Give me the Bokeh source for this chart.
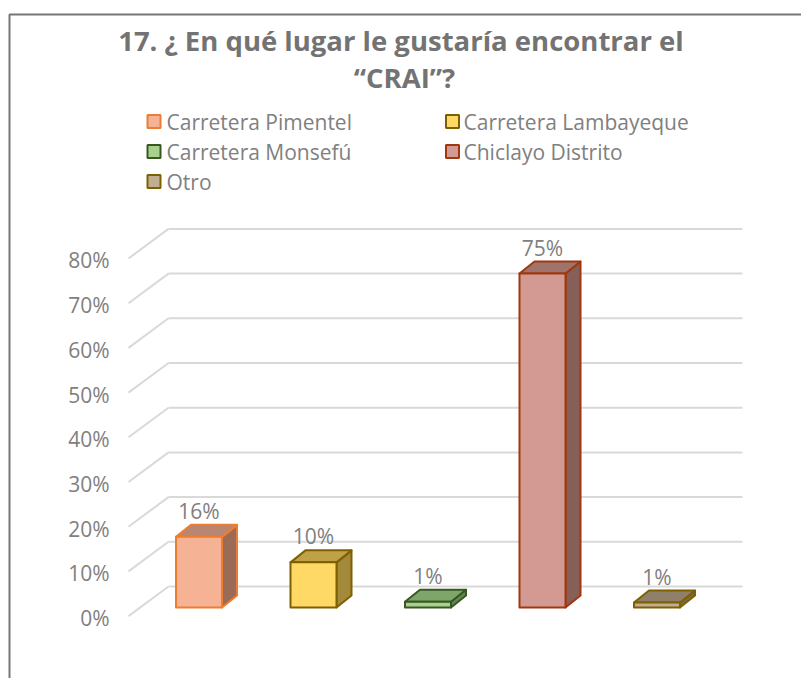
from bokeh.plotting import figure
from bokeh.models import Range1d
from bokeh.core.properties import value
from bokeh.embed import file_html
from bokeh.resources import INLINE

# ---------------- data ----------------
categories = ["Carretera Pimentel", "Carretera Lambayeque", "Carretera Monsefú",
              "Chiclayo Distrito", "Otro"]
values = [15.8, 10.1, 1.3, 74.7, 1.1]          # percent
tick_values = [0, 10, 20, 30, 40, 50, 60, 70, 80]
tick_labels = ["0%", "10%", "20%", "30%", "40%", "50%", "60%", "70%", "80%"]
title_lines = ["17. ¿ En qué lugar le gustaría encontrar  el", "“CRAI”?"]

# ---------------- styles ----------------
front_colors = ["#F6B294", "#FFD966", "#A9D18E", "#D29A93", "#BFAE8F"]
top_colors = ["#B98671", "#BFA247", "#7EA56A", "#A0746D", "#8F806A"]
side_colors = ["#9C6B56", "#A38A3B", "#5F8A4C", "#866058", "#7A6A4C"]
edge_colors = ["#ED7D31", "#7F6000", "#385723", "#A0380E", "#7F6000"]

W, H = 801, 678
SX, SY = 114.5, 4.47          # px per category step, px per percent
X0C, Y0C = 198.5, 607.0       # canvas px of category 0 / value 0 (bar front)


def fx(px):   # canvas px -> data x
    return (px - X0C) / SX


def fy(py):   # canvas px -> data y
    return (Y0C - py) / SY


p = figure(width=W, height=H, output_backend="svg", toolbar_location=None,
           x_range=Range1d(fx(0), fx(W)), y_range=Range1d(fy(H), fy(0)),
           min_border=0)
p.axis.visible = False
p.grid.visible = False
p.outline_line_color = None
p.background_fill_color = "white"
p.border_fill_color = "white"
p.title.visible = False

FONT = "Open Sans"
GRAY = "#808080"

# chart border (left and top)
p.line([fx(9), fx(9), fx(W)], [fy(H), fy(14), fy(14)], line_color="#767676", line_width=2)

# ---------------- 3D walls / gridlines ----------------
back_y_off = 4.70
front_y_off = -1.92
wall_left = fx(168)
wall_right = fx(742)
floor_left = fx(128)
p.segment(x0=[wall_left] * len(tick_values), y0=[t + back_y_off for t in tick_values],
          x1=[wall_right] * len(tick_values), y1=[t + back_y_off for t in tick_values],
          line_color="#D9D9D9", line_width=2)
p.segment(x0=[floor_left] * len(tick_values), y0=[t + front_y_off for t in tick_values],
          x1=[wall_left] * len(tick_values), y1=[t + back_y_off for t in tick_values],
          line_color="#D9D9D9", line_width=2)

# tick labels
p.text(x=[fx(109)] * len(tick_values), y=[t + front_y_off - 2 / SY for t in tick_values],
       text=tick_labels, text_align="right", text_baseline="alphabetic",
       text_font=value(FONT), text_font_size="21px", text_color=GRAY)

# ---------------- 3D bars ----------------
hw = 23 / SX
ddx = 15 / SX
ddy = 12 / SY
xs_front, ys_front, xs_top, ys_top, xs_side, ys_side = [], [], [], [], [], []
for i, v in enumerate(values):
    l, r = i - hw, i + hw
    xs_front.append([l, r, r, l]); ys_front.append([0, 0, v, v])
    xs_top.append([l, r, r + ddx, l + ddx]); ys_top.append([v, v, v + ddy, v + ddy])
    xs_side.append([r, r + ddx, r + ddx, r]); ys_side.append([0, ddy, v + ddy, v])

p.patches(xs_side, ys_side, fill_color=side_colors, line_color=edge_colors, line_width=2,
          line_join="round")
p.patches(xs_top, ys_top, fill_color=top_colors, line_color=edge_colors, line_width=2,
          line_join="round")
p.patches(xs_front, ys_front, fill_color=front_colors, line_color=edge_colors, line_width=2,
          line_join="round")

# value labels
p.text(x=list(range(len(values))), y=[v + 5.8 for v in values],
       text=[f"{round(v)}%" for v in values], text_align="center", text_baseline="alphabetic",
       text_font=value(FONT), text_font_size="21px", text_color=GRAY)

# ---------------- title ----------------
p.text(x=[fx(404), fx(404)], y=[fy(40), fy(77)], text=title_lines,
       text_align="center", text_baseline="alphabetic", text_font=value(FONT),
       text_font_style="bold", text_font_size="27.5px", text_color="#737373")

# ---------------- legend ----------------
leg_sq_x = [fx(153.5), fx(452), fx(153.5), fx(452), fx(153.5)]
leg_tx_x = [fx(166), fx(463), fx(166), fx(463), fx(166)]
leg_y = [121, 121, 151, 151, 181]
p.scatter(x=leg_sq_x, y=[fy(y) for y in leg_y], marker="square", size=13,
          fill_color=front_colors, line_color=edge_colors, line_width=2)
p.text(x=leg_tx_x, y=[fy(y) for y in leg_y], text=categories, text_align="left",
       text_baseline="alphabetic", text_font=value(FONT), text_font_size="21px",
       text_color=GRAY)

open("out.html", "w").write(file_html(p, INLINE))
